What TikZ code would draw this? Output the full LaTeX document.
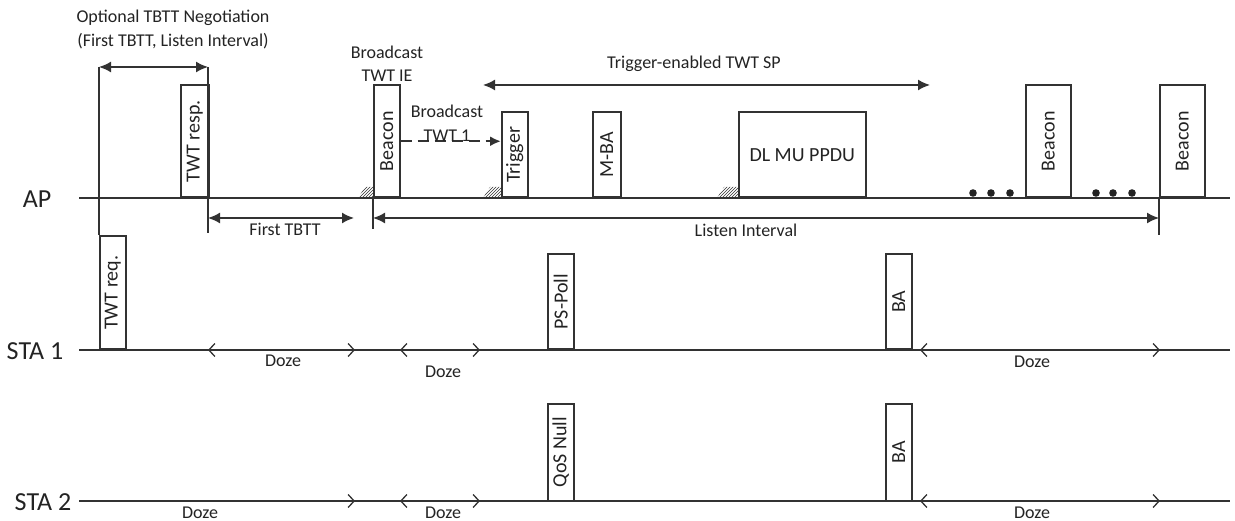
\documentclass[tikz,border=0pt]{standalone}
\usepackage{fontspec}
\setmainfont{Carlito}
\usepackage{tikz}
\usetikzlibrary{arrows.meta,patterns,positioning,calc}
\definecolor{lineGray}{RGB}{50,50,50}
\definecolor{txtGray} {RGB}{35,35,35}

\tikzset{
  axis/.style={draw=lineGray,line width=1.6pt},
  frm/.style={draw=lineGray,line width=1.5pt,inner sep=0pt,anchor=south west},
  vtxt/.style={rotate=90,text=txtGray,inner sep=0pt,font=\fontsize{20}{20}\selectfont},
  lbl/.style={text=txtGray,inner sep=0pt,align=center,font=\fontsize{18}{24}\selectfont},
  rowlbl/.style={text=txtGray,inner sep=0pt,font=\fontsize{26}{28}\selectfont},
  span/.style={lineGray,line width=1.6pt,{Latex[length=12pt,width=11pt]}-{Latex[length=12pt,width=11pt]}},
  dozeArr/.style={lineGray,line width=1.3pt,{Straight Barb[length=6pt,width=13pt]}-{Straight Barb[length=6pt,width=13pt]}},
  hatch/.style={pattern=north east lines,pattern color=lineGray}
}
% packet box: name, left x, base y, width, height, text
\newcommand\pkt[6]{%
  \node[frm,minimum width=#4pt,minimum height=#5pt] (#1) at (#2,#3) {};
  \node[vtxt] at (#1.center) {#6};}

\begin{document}
\begin{tikzpicture}[x=1pt,y=-1pt]
\useasboundingbox (0,0) rectangle (1235,521);

% time lines
\foreach \nm/\y in {ap/198, staA/350, staB/501}{
  \coordinate (\nm W) at (79,\y);
  \coordinate (\nm E) at (1230,\y);
  \draw[axis] (\nm W) -- (\nm E);
}
\node[rowlbl] (lAP)   at (37,199) {AP};
\node[rowlbl] (lSTA1) at (35,351) {STA 1};
\node[rowlbl] (lSTA2) at (43,502) {STA 2};

% AP frames
\pkt{twtresp}{180}{198}{28}{112}{TWT resp.}
\pkt{bcnA}{373}{198}{26}{112}{Beacon}
\pkt{trig}{501}{198}{26}{85}{Trigger}
\pkt{mba}{592}{198}{28}{85}{M-BA}
\node[frm,minimum width=127pt,minimum height=85pt] (dlmu) at (738,198) {};
\node[text=txtGray,font=\fontsize{20}{20}\selectfont] at (dlmu.center) {DL MU PPDU};
\pkt{bcnB}{1025}{198}{45}{112}{Beacon}
\pkt{bcnC}{1159}{198}{45}{112}{Beacon}

% STA frames
\pkt{twtreq}{99}{350}{26}{113}{TWT req.}
\pkt{pspoll}{547}{350}{26}{95}{PS-Poll}
\pkt{baA}{885}{350}{26}{95}{BA}
\pkt{qos}{547}{501}{26}{96}{QoS Null}
\pkt{baB}{885}{501}{26}{96}{BA}

% channel access
\foreach \x/\r in {358/373, 483/501, 717/738}
  \fill[hatch] (\x,198) -- (\x+7,187) -- (\r,187) -- (\r,198) -- cycle;

\foreach \x in {973,991,1010,1096,1113,1132}
  \fill[lineGray!70!black] (\x,193) circle (3.8);

% negotiation
\coordinate (negL) at (99,67);
\coordinate (negR) at (208,67);
\coordinate (tbttL) at (208,218);
\coordinate (tbttR) at (354,218);
\draw[axis] (negL) -- (twtreq.north west);
\draw[axis] (negR) -- (208,233);
\draw[span] (negL) -- (negR);
\node[lbl] (optTxt) at (173,30) {Optional TBTT Negotiation\\(First TBTT, Listen Interval)};

\draw[span] (tbttL) -- (tbttR);
\node[lbl] (tbttTxt) at (285,229) {First TBTT};

% listen interval
\coordinate (liL) at (373,218);
\coordinate (liR) at (1159,218);
\draw[axis] (bcnA.south west) -- (373,229);
\draw[axis] (bcnC.south west) -- (1159,235);
\draw[span] (liL) -- (liR);
\node[lbl] (liTxt) at (746,230) {Listen Interval};

\node[lbl,font=\fontsize{18}{23}\selectfont] (ieTxt) at (387,64) {Broadcast\\TWT IE};

% broadcast TWT 1
\draw[lineGray,line width=2.4pt,dash pattern=on 11pt off 6pt,-{Latex[length=11pt,width=10pt]}]
  (bcnA.east) -- (trig.west |- bcnA.east);
\node[lbl] (twtTxt) at (447,123) {Broadcast\\TWT 1};

% service period
\coordinate (spL) at (483,85);
\coordinate (spR) at (930,85);
\draw[span] (spL) -- (spR);
\node[lbl] (spTxt) at (694,64) {Trigger-enabled TWT SP};

% doze periods
\draw[dozeArr] (208,350) -- (355,350);
\draw[dozeArr] (400,350) -- (480,350);
\draw[dozeArr] (920,350) -- (1160,350);
\node[lbl] at (283,361) {Doze};
\node[lbl] at (443,372) {Doze};
\node[lbl] at (1032,362) {Doze};

\draw[lineGray,line width=1.3pt,-{Straight Barb[length=6pt,width=13pt]}] (300,501) -- (355,501);
\draw[dozeArr] (400,501) -- (480,501);
\draw[dozeArr] (920,501) -- (1160,501);
\node[lbl] at (200,513) {Doze};
\node[lbl] at (443,513) {Doze};
\node[lbl] at (1032,513) {Doze};
\end{tikzpicture}
\end{document}
